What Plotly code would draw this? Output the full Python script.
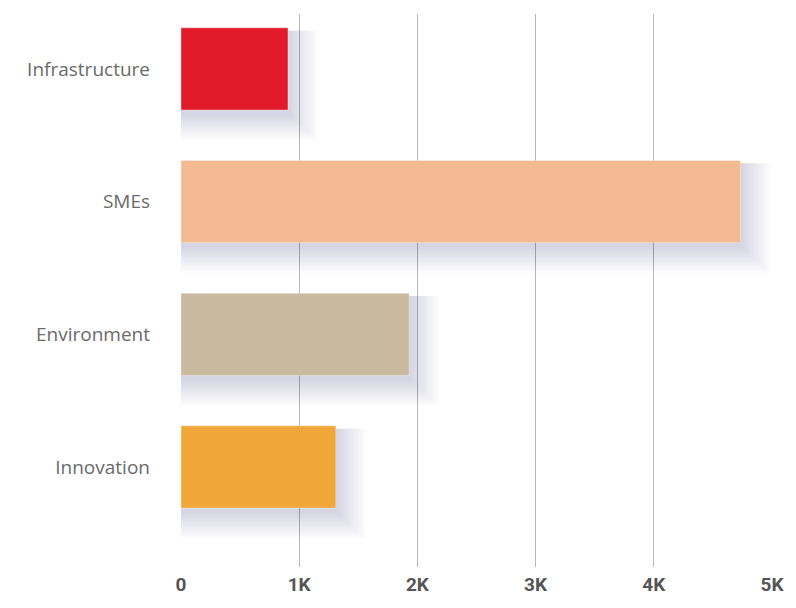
import plotly.graph_objects as go

categories = ["Infrastructure", "SMEs", "Environment", "Innovation"]
values = [905, 4735, 1930, 1310]
colors = ["#E21B2B", "#F4BB92", "#C9B99E", "#F1A63A"]
tick_vals = [0, 1000, 2000, 3000, 4000, 5000]
tick_text = ["0", "1K", "2K", "3K", "4K", "5K"]

fig = go.Figure()

# soft drop shadows (layered translucent bars)
n_layers = 14
for k in range(n_layers):
    grow = k + 1
    fig.add_trace(go.Bar(
        y=categories, x=[v + grow * 18 for v in values], orientation="h",
        base=0, width=0.62 + grow * 0.015, offset=-0.31 + 0.02,
        marker=dict(color="rgba(40,40,70,0.013)", line=dict(width=0)),
        hoverinfo="skip", showlegend=False,
    ))

fig.add_trace(go.Bar(
    y=categories, x=values, orientation="h",
    width=0.62,
    marker=dict(color=colors, line=dict(color="rgba(255,255,255,0.35)", width=1)),
    showlegend=False,
))

fig.update_layout(
    width=796, height=608,
    margin=dict(l=181, r=19, t=14, b=35),
    paper_bgcolor="white", plot_bgcolor="white",
    barmode="overlay",
    xaxis=dict(
        range=[0, 5000], tickvals=tick_vals, ticktext=tick_text,
        showgrid=True, gridcolor="#B8B8B8", gridwidth=1.2,
        zeroline=False, showline=False, ticks="",
        tickfont=dict(family="Liberation Sans Narrow, Roboto", size=19, color="#555555", weight="bold"),
        ticklabelstandoff=4,
    ),
    yaxis=dict(
        categoryorder="array", categoryarray=categories,
        range=[3.754, -0.414], showgrid=False, zeroline=False, showline=False,
        ticks="", ticklabelstandoff=30,
        tickfont=dict(family="Open Sans", size=19, color="#6A6A6A"),
    ),
)

fig.write_html("out.html")
